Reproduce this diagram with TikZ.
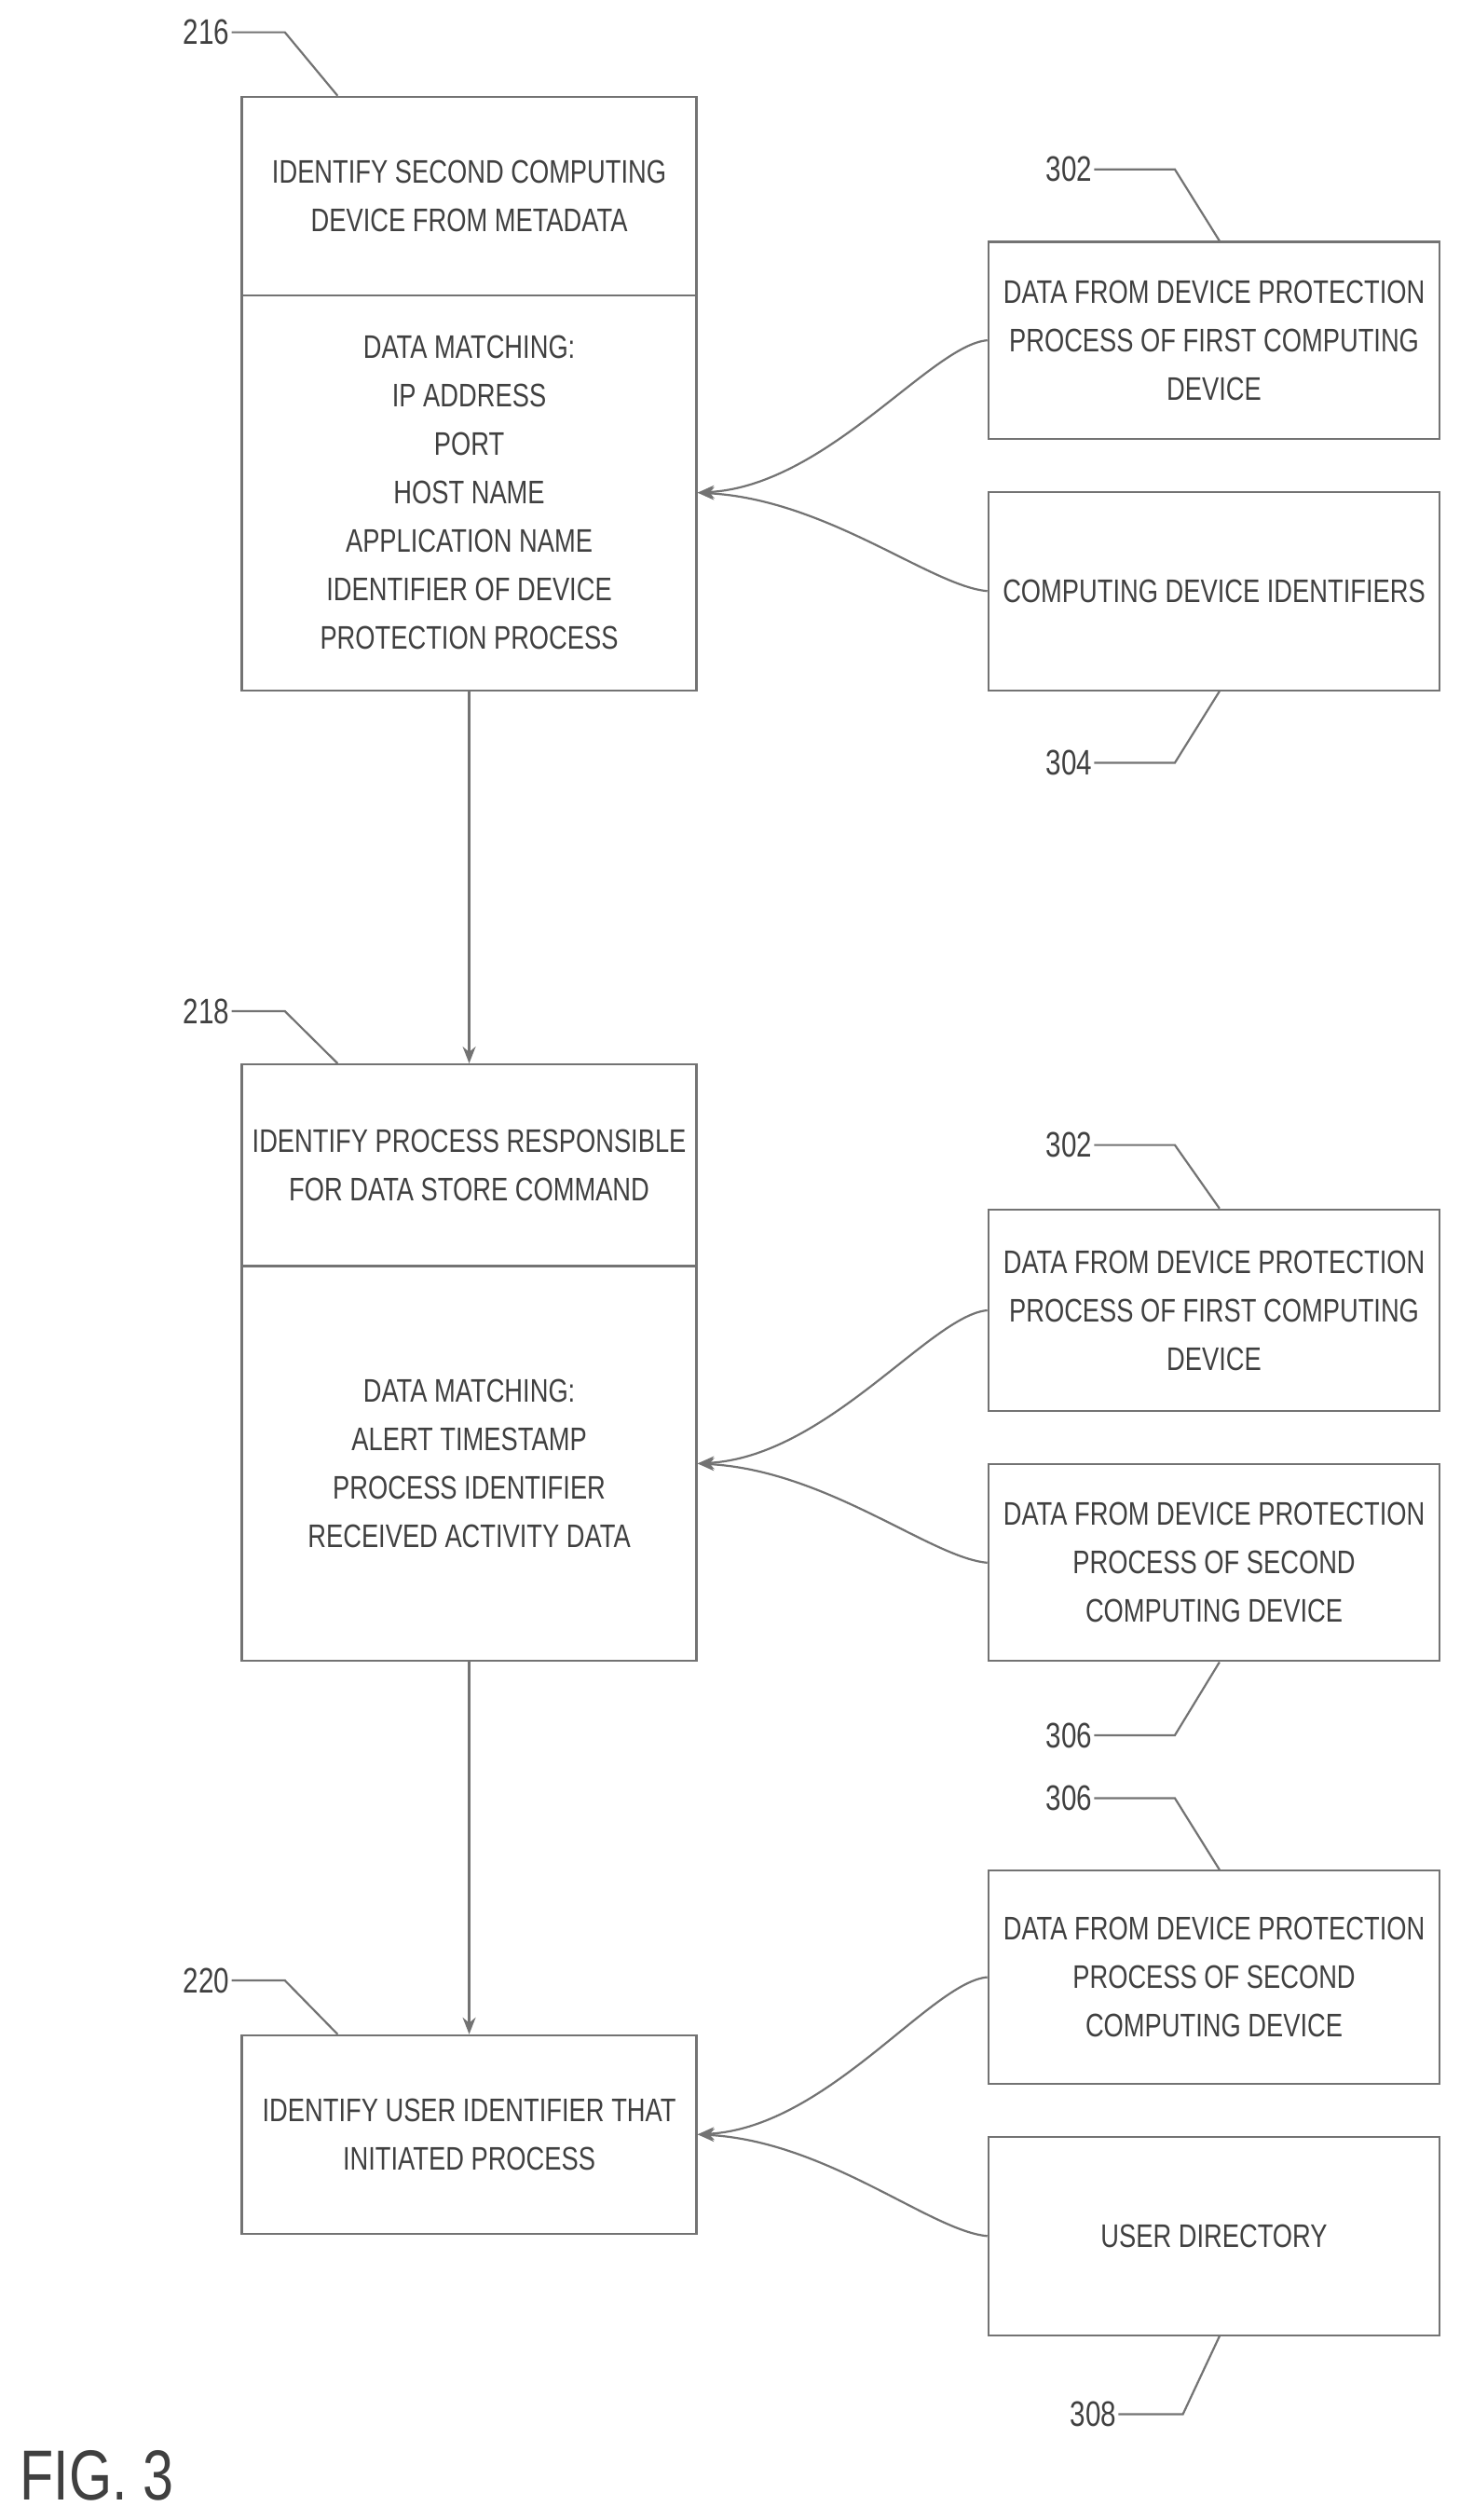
\documentclass[tikz,border=0pt]{standalone}
\usepackage{fontspec}
\setmainfont{Liberation Sans}[FakeStretch=0.78]
\usetikzlibrary{calc,arrows.meta}
\def\u{0.8652pt}
\begin{document}
\begin{tikzpicture}[x=0.8652pt,y=-0.8652pt,
  every node/.style={font=\fontsize{17.5}{26}\selectfont, text=black!75, align=center},
  box/.style={draw=black!55, line width=1.1pt, minimum width=282*\u, inner sep=2pt},
  rbox/.style={draw=black!55, line width=1.1pt, minimum width=280*\u, inner sep=2pt},
  ln/.style={draw=black!55, line width=1.1pt},
  arr/.style={ln, -{Stealth[length=9pt,width=7pt]}},
  lab/.style={font=\fontsize{19}{20}\selectfont, inner sep=1pt}]
\useasboundingbox (0,0) rectangle (905,1562.6);
% left boxes
\node[box, minimum height=123*\u] (t216) at (291,121.5) {IDENTIFY SECOND COMPUTING\\DEVICE FROM METADATA};
\node[box, minimum height=245*\u] (b216) at (291,305.5) {DATA MATCHING:\\IP ADDRESS\\PORT\\HOST NAME\\APPLICATION NAME\\IDENTIFIER OF DEVICE\\PROTECTION PROCESS};
\node[box, minimum height=125*\u] (t218) at (291,722.5) {IDENTIFY PROCESS RESPONSIBLE\\FOR DATA STORE COMMAND};
\node[box, minimum height=245*\u] (b218) at (291,907.5) {DATA MATCHING:\\ALERT TIMESTAMP\\PROCESS IDENTIFIER\\RECEIVED ACTIVITY DATA};
\node[box, minimum height=123*\u] (b220) at (291,1323.5) {IDENTIFY USER IDENTIFIER THAT\\INITIATED PROCESS};
% right boxes
\node[rbox, minimum height=122*\u] (r302a) at (753,211) {DATA FROM DEVICE PROTECTION\\PROCESS OF FIRST COMPUTING\\DEVICE};
\node[rbox, minimum height=123*\u] (r304) at (753,366.5) {COMPUTING DEVICE IDENTIFIERS};
\node[rbox, minimum height=125*\u] (r302b) at (753,812.5) {DATA FROM DEVICE PROTECTION\\PROCESS OF FIRST COMPUTING\\DEVICE};
\node[rbox, minimum height=122*\u] (r306a) at (753,969) {DATA FROM DEVICE PROTECTION\\PROCESS OF SECOND\\COMPUTING DEVICE};
\node[rbox, minimum height=132*\u] (r306b) at (753,1226) {DATA FROM DEVICE PROTECTION\\PROCESS OF SECOND\\COMPUTING DEVICE};
\node[rbox, minimum height=123*\u] (r308) at (753,1386.5) {USER DIRECTORY};
% vertical arrows
\draw[arr] (b216.south) -- (t218.north);
\draw[arr] (b218.south) -- (b220.north);
% curved arrows
\foreach \s/\t in {r302a/b216, r302b/b218, r306b/b220}{
  \draw[arr] (\s.west) .. controls ($(\s.west)+(-35,3)$) and ($(\t.east)+(80,-4)$) .. (\t.east);}
\foreach \s/\t in {r304/b216, r306a/b218, r308/b220}{
  \draw[arr] (\s.west) .. controls ($(\s.west)+(-35,-3)$) and ($(\t.east)+(80,4)$) .. (\t.east);}
% labels
\node[lab] (l216) at (128,20) {216};
\draw[ln] (l216.east) -- ++(33,0) -- ([xshift=60*\u]t216.north west);
\node[lab] (l218) at (128,627) {218};
\draw[ln] (l218.east) -- ++(33,0) -- ([xshift=60*\u]t218.north west);
\node[lab] (l220) at (128,1228) {220};
\draw[ln] (l220.east) -- ++(33,0) -- ([xshift=60*\u]b220.north west);
\node[lab] (l302a) at (663,105) {302};
\draw[ln] (l302a.east) -- ++(50,0) -- ([xshift=144*\u]r302a.north west);
\node[lab] (l302b) at (663,710) {302};
\draw[ln] (l302b.east) -- ++(50,0) -- ([xshift=144*\u]r302b.north west);
\node[lab] (l306b) at (663,1115) {306};
\draw[ln] (l306b.east) -- ++(50,0) -- ([xshift=144*\u]r306b.north west);
\node[lab] (l304) at (663,473) {304};
\draw[ln] (l304.east) -- ++(50,0) -- ([xshift=144*\u]r304.south west);
\node[lab] (l306a) at (663,1076) {306};
\draw[ln] (l306a.east) -- ++(50,0) -- ([xshift=144*\u]r306a.south west);
\node[lab] (l308) at (678,1497) {308};
\draw[ln] (l308.east) -- ++(40,0) -- ([xshift=144*\u]r308.south west);
\node[font=\fontsize{38}{40}\selectfont, text=black!75] (fig) at (60,1535) {FIG. 3};
\end{tikzpicture}
\end{document}
